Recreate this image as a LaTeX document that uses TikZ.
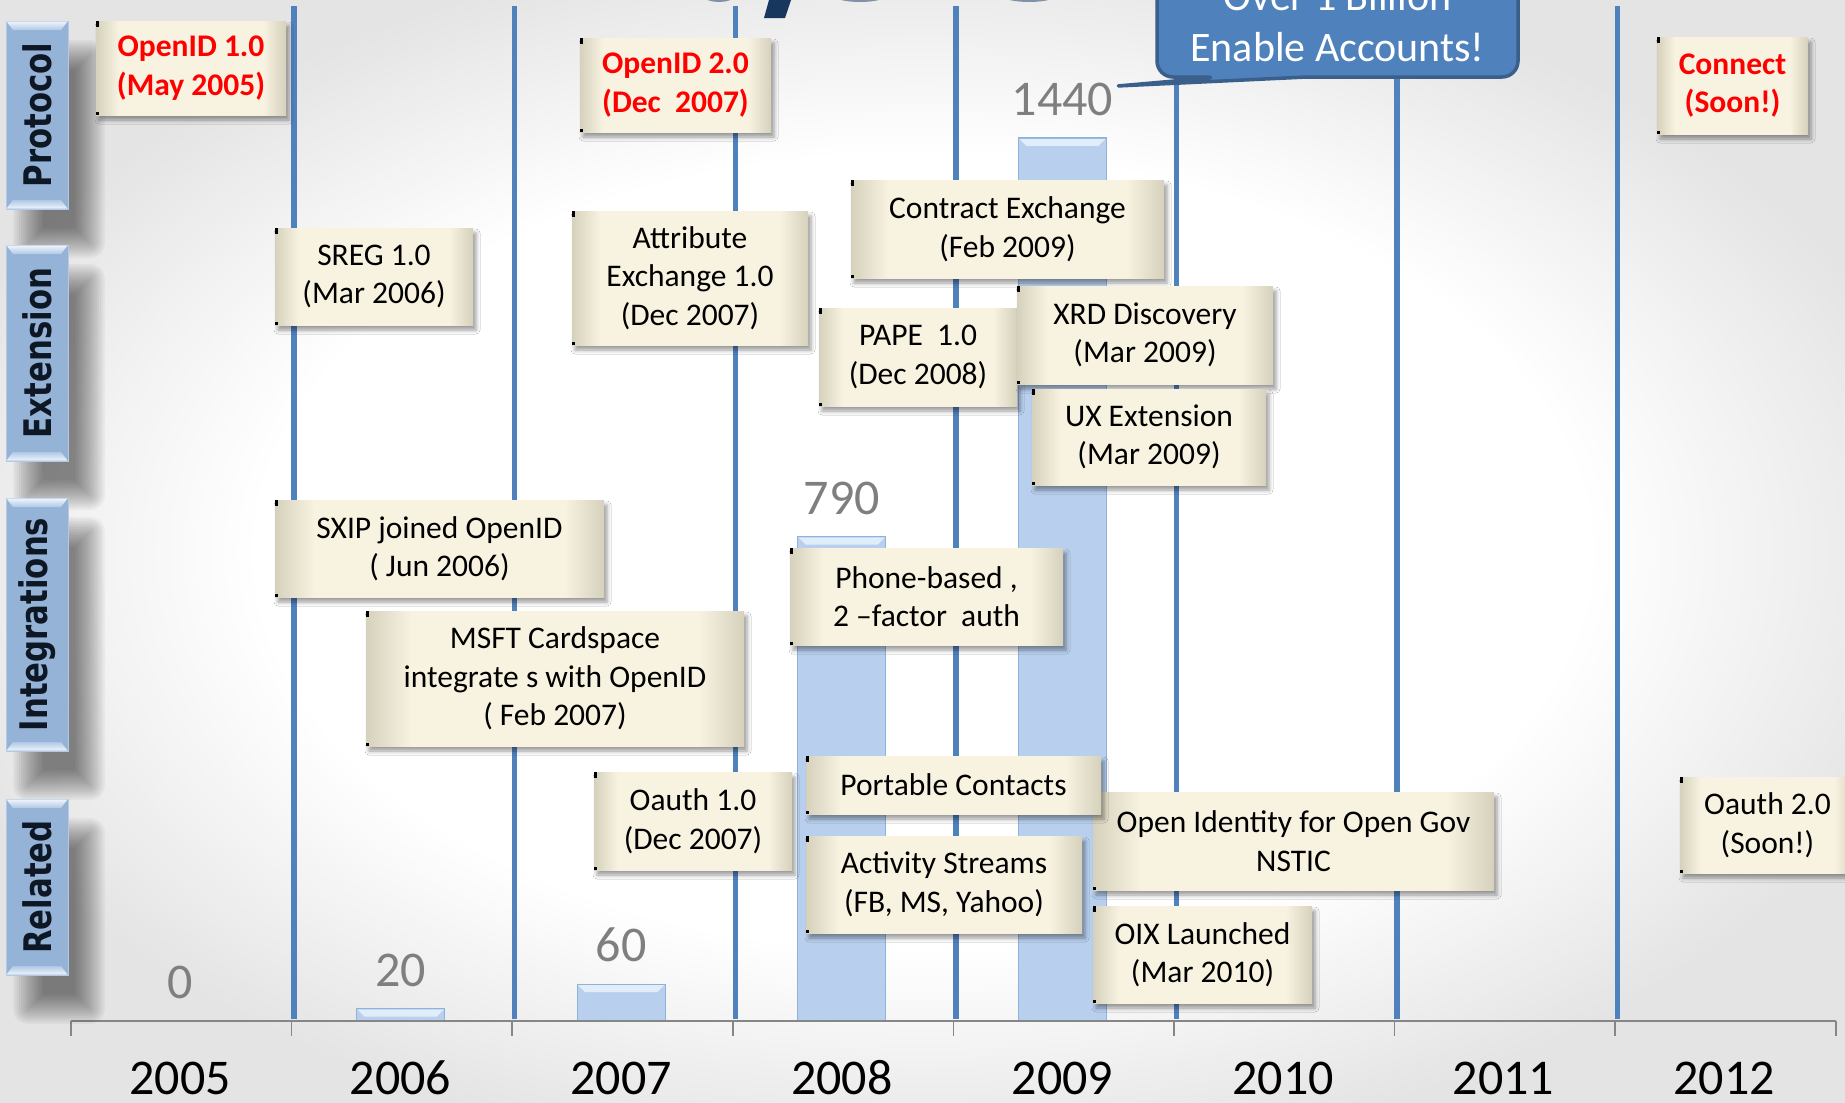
\documentclass[tikz,border=0pt]{standalone}
\usepackage{fontspec}
\setmainfont{Carlito}
\newfontfamily\labelfamily{DejaVu Sans}
\usetikzlibrary{shadows.blur}

\definecolor{gridblue}{HTML}{4F81BD}
\definecolor{barfill}{HTML}{B8D0EE}
\definecolor{barline}{HTML}{8FB2DD}
\definecolor{barlight}{HTML}{E2EDFA}
\definecolor{tabfill}{HTML}{95B3D7}
\definecolor{tabedge}{HTML}{B4C9E3}
\definecolor{tabhi}{HTML}{EEF4FC}
\definecolor{tablo}{HTML}{B0C8E6}
\definecolor{tabtext}{HTML}{0E1724}
\definecolor{noteedge}{HTML}{D6D1BC}
\definecolor{notemid}{HTML}{F8F3E1}
\definecolor{valgray}{HTML}{7F7F7F}
\definecolor{axisgray}{HTML}{868686}
\definecolor{calloutfill}{HTML}{4F81BD}
\definecolor{calloutline}{HTML}{3A5F8B}
\definecolor{titlenavy}{HTML}{17375E}
\definecolor{bgedge}{HTML}{E4E4E4}

% cream sticky-note paper: darker at the left and right edges
\pgfdeclarehorizontalshading{notesh}{100bp}{color(0bp)=(noteedge); color(25bp)=(noteedge); color(31bp)=(notemid); color(69bp)=(notemid); color(75bp)=(noteedge); color(100bp)=(noteedge)}
% soft grey vignette behind everything
\pgfdeclareradialshading{bgsh}{\pgfpoint{0bp}{0bp}}{color(0bp)=(white); color(18bp)=(white); color(28bp)=(bgedge); color(50bp)=(bgedge)}

\newcommand\mynotefont{\fontsize{31.5}{38.5}\selectfont}
\newcommand\myvalfont{\fontsize{50}{50}\selectfont}
\newcommand\myyearfont{\fontsize{50}{50}\selectfont}
\newcommand\mybubblefont{\fontsize{42}{51}\selectfont}
\newcommand\mytabfont{\labelfamily\bfseries\fontsize{38}{38}\selectfont}

\begin{document}
\begin{tikzpicture}[x=1pt, y=-1pt,
  note/.style={shading=notesh, align=center, inner sep=0pt, text=black, font=\mynotefont,
    blur shadow={shadow xshift=3pt, shadow yshift=-5pt, shadow opacity=40, shadow blur radius=4pt},
    path picture={\fill[black] (path picture bounding box.north west) rectangle ++(3pt,-6pt);
                  \fill[black] (path picture bounding box.south west) rectangle ++(3pt,3pt);}},
  rednote/.style={note, text=red, font=\mynotefont\bfseries},
  tabbox/.style={fill=tabfill, draw=tabedge, line width=1pt, minimum width=62pt, inner sep=0pt},
  tabshadow/.style={fill=black, opacity=0.034},
  tabword/.style={text=tabtext, font=\mytabfont, inner sep=0pt, rotate=90},
  bar/.style={fill=barfill, draw=barline, line width=1.2pt},
  gridline/.style={draw=gridblue, line width=5.5pt},
  value/.style={text=valgray, font=\myvalfont, anchor=base, inner sep=0pt},
  year/.style={text=black, font=\myyearfont, anchor=base, inner sep=0pt},
  bubble/.style={fill=calloutfill, draw=calloutline, line width=3.5pt, line join=round},
  bubbletext/.style={text=white, font=\mybubblefont, anchor=base, inner sep=0pt}
]
\useasboundingbox (0,0) rectangle (1845,1103);
\shade[shading=bgsh] (0,0) rectangle (1845,1103);

% lower edge of the slide title
\fill[titlenavy] (769,0) -- (791,0) -- (785,18) -- (764,18) -- cycle;
\fill[titlenavy!55] (719,-19) ellipse [x radius=27, y radius=21];
\fill[titlenavy!55] (860,-19) ellipse [x radius=45, y radius=21];
\fill[titlenavy!55] (1029,-19) ellipse [x radius=46, y radius=21];

% bars: accounts per year (millions)
\foreach \i/\v in {1/20,2/60,3/790,4/1440}{
  \pgfmathsetmacro\cx{180+220.6*\i}
  \pgfmathsetmacro\bartop{1021-0.6132*\v}
  \path[bar] (\cx-44,\bartop) rectangle (\cx+44,1021);
  \fill[barlight] (\cx-43,\bartop+1) -- (\cx+43,\bartop+1) -- (\cx+36,\bartop+8) -- (\cx-36,\bartop+8) -- cycle;
}

% year separators
\foreach \k in {1,...,7}{
  \draw[gridline] ({73.5+220.6*\k},6) -- ({73.5+220.6*\k},1019);
}

% category axis
\draw[axisgray, line width=2pt] (71,1021) -- (1836,1021);
\foreach \k in {0,...,8}{
  \draw[axisgray, line width=1.5pt] ({71+220.6*\k},1021) -- ({71+220.6*\k},1036);
}
\foreach \yr [count=\i from 0] in {2005,2006,2007,2008,2009,2010,2011,2012}{
  \node[year] (y\yr) at ({180+220.6*\i},1094) {\yr};
}

% data labels
\node[value] (v2005) at (180,998) {0};
\node[value] (v2006) at (400.6,986) {20};
\node[value] (v2007) at (621.2,961) {60};
\node[value] (v2008) at (841.8,514) {790};
\node[value] (v2009) at (1062.4,115) {1440};

% soft drop shadows of the category tabs (stacked translucent layers)
\foreach \ya/\yb in {21/209, 245/461, 498/751, 799/975}{
  \foreach \r in {-15,-13,...,15}{
    \fill[tabshadow, rounded corners={max(\r,1)*1pt}] ({28-\r},{\ya+34-\r}) rectangle ({90+\r},{\yb+34+\r});
  }
}

% category tabs
\foreach \nm/\ya/\yb/\word in {tprot/21/209/Protocol, text/245/461/Extension, tint/498/751/Integrations, trel/799/975/Related}{
  \node[tabbox, minimum height={\yb-\ya}] (\nm) at (37,{(\ya+\yb)/2}) {};
  \shade[top color=tabhi, bottom color=tablo] (6.5,\ya+0.5) -- (67.5,\ya+0.5) -- (61,\ya+9) -- (13,\ya+9) -- cycle;
  \shade[top color=tablo, bottom color=tabhi] (6.5,\yb-0.5) -- (67.5,\yb-0.5) -- (61,\yb-9) -- (13,\yb-9) -- cycle;
  \node[tabword] (\nm-w) at (\nm.center) {\scalebox{0.81}[1]{\word}};
}

% protocol milestones
\node[rednote, minimum width=190pt, minimum height=94pt] (n1) at (191,68) {OpenID 1.0\\(May 2005)};
\node[rednote, minimum width=191pt, minimum height=94pt] (n2) at (675.5,85) {OpenID 2.0\\(Dec\ \ 2007)};
\node[rednote, minimum width=151pt, minimum height=97pt] (n3) at (1732.5,85.5) {Connect\\(Soon!)};

% extensions
\node[note, minimum width=198pt, minimum height=97pt] (n4) at (374,276.5) {SREG 1.0\\(Mar 2006)};
\node[note, minimum width=236pt, minimum height=134pt] (n5) at (690,278) {Attribute\\Exchange 1.0\\(Dec 2007)};
\node[note, minimum width=313pt, minimum height=98pt] (n6) at (1007.5,229) {Contract Exchange\\(Feb 2009)};
\node[note, minimum width=198pt, minimum height=98pt] (n7) at (918,357) {PAPE\ \ 1.0\\(Dec 2008)};
\node[note, minimum width=256pt, minimum height=98pt] (n8) at (1145,335) {XRD Discovery\\(Mar 2009)};
\node[note, minimum width=234pt, minimum height=96pt] (n9) at (1149,437) {UX Extension\\(Mar 2009)};

% integrations
\node[note, minimum width=329pt, minimum height=97pt] (n10) at (439.5,548.5) {SXIP joined OpenID\\( Jun 2006)};
\node[note, minimum width=378pt, minimum height=135pt] (n11) at (555,678.5) {MSFT Cardspace\\integrate s with OpenID\\( Feb 2007)};
\node[note, minimum width=273pt, minimum height=97pt] (n12) at (926.5,596.5) {Phone-based ,\\2 –factor\ \ auth};

% related work
\node[note, minimum width=401pt, minimum height=98pt] (n16) at (1293.5,841) {Open Identity for Open Gov\\NSTIC};
\node[note, minimum width=295pt, minimum height=58pt] (n13) at (953.5,785) {Portable Contacts};
\node[note, minimum width=198pt, minimum height=98pt] (n14) at (693,821) {Oauth 1.0\\(Dec 2007)};
\node[note, minimum width=276pt, minimum height=97pt] (n15) at (944,884.5) {Activity Streams\\(FB, MS, Yahoo)};
\node[note, minimum width=219pt, minimum height=97pt] (n17) at (1202.5,954.5) {OIX Launched\\(Mar 2010)};
\node[note, minimum width=175pt, minimum height=96pt] (n18) at (1767.5,825) {Oauth 2.0\\(Soon!)};

% speech bubble pointing at the 2009 value
\coordinate (tip) at ($(v2009.east)+(5,-13)$);
\draw[bubble] (1157,-60) [rounded corners=16pt] -- (1157,77) -- (1220,77) [sharp corners] -- (tip) -- (1307,77) [rounded corners=16pt] -- (1518,77) -- (1518,-60) [sharp corners] -- cycle;
\node[bubbletext] (bub1) at (1337.5,10) {Over 1 Billion};
\node[bubbletext] (bub2) at (1337.5,61) {Enable Accounts!};
\end{tikzpicture}
\end{document}
